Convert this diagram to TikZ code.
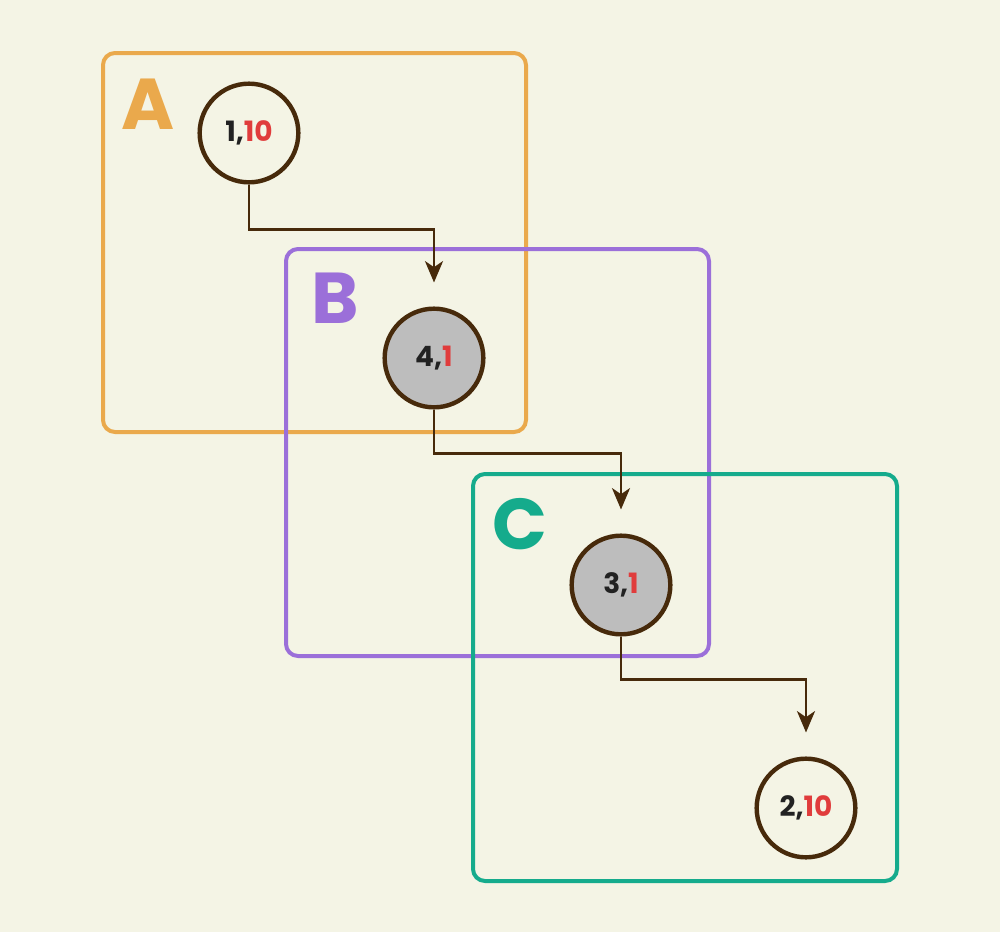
\documentclass[tikz,border=0pt]{standalone}
\usepackage{fontspec}
\setmainfont{Poppins}
\usepackage{tikz}
\usetikzlibrary{positioning}
\usetikzlibrary{arrows.meta}

\definecolor{bgcol}{HTML}{F4F4E5}
\definecolor{setA}{HTML}{EAA94C}
\definecolor{setB}{HTML}{9B6FD9}
\definecolor{setC}{HTML}{15AB8C}
\definecolor{edgecol}{HTML}{472A0B}
\definecolor{numred}{HTML}{E03C3C}
\definecolor{numdark}{HTML}{222222}
\definecolor{visited}{HTML}{BDBDBD}

\tikzset{
  setbox/.style={draw=#1, line width=3pt, rounded corners=9pt},
  setlabel/.style={text=#1, font=\fontsize{54}{54}\selectfont\bfseries, inner sep=0pt},
  vert/.style={circle, draw=edgecol, line width=3.3pt, minimum size=74pt,
    inner sep=0pt, text=numdark, font=\fontsize{21}{21}\selectfont\bfseries},
  flow/.style={draw=edgecol, line width=1.9pt,
    -{Stealth[length=16pt, width=13.5pt, inset=4.5pt]}, shorten >=18pt},
}

\begin{document}
\begin{tikzpicture}[x=0.75pt, y=-0.75pt]
    \fill[bgcol] (0,0) rectangle (1000,932);
    \useasboundingbox (0,0) rectangle (1000,932);

    % Sets
    \draw[setbox=setA] (103,53) rectangle (526,432);
    \draw[setbox=setB] (286,249) rectangle (709,656);
    \draw[setbox=setC] (473,474) rectangle (897,881);

    \node[setlabel=setA] (la) at (148,104) {A};
    \node[setlabel=setB] (lb) at (335,298) {B};
    \node[setlabel=setC] (lc) at (520,524) {C};

    % Vertices
    \node[vert] (v1) at (249,133) {1,\textcolor{numred}{10}};
    \node[vert, fill=visited] (v4) at (434,358) {4,\textcolor{numred}{1}};
    \node[vert, fill=visited] (v3) at (621,585) {3,\textcolor{numred}{1}};
    \node[vert] (v2) at (806,808) {2,\textcolor{numred}{10}};

    % Connect the vertices
    \draw[flow] (v1.south) -- ++(0,45) -| (v4.north);
    \draw[flow] (v4.south) -- ++(0,44) -| (v3.north);
    \draw[flow] (v3.south) -- ++(0,43) -| (v2.north);
\end{tikzpicture}
\end{document}
